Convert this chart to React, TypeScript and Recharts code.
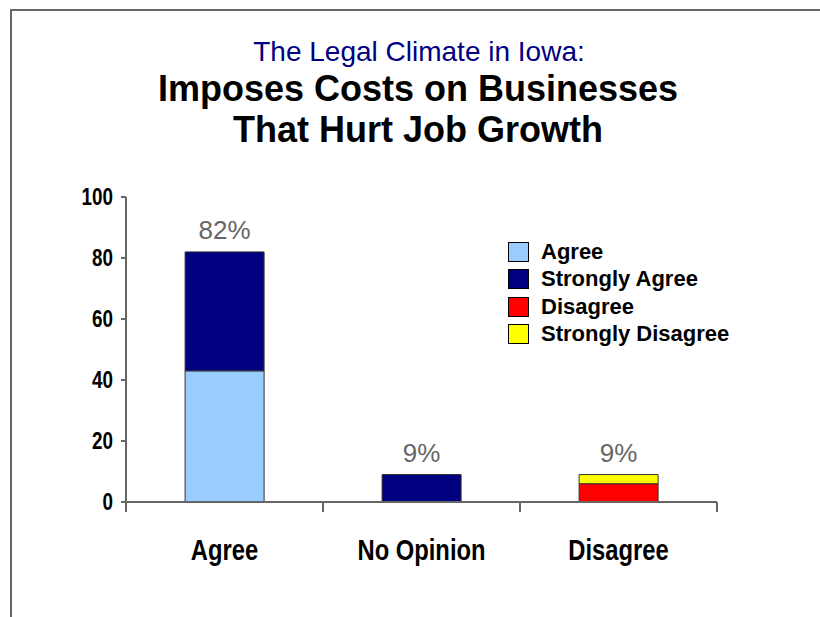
import React from 'react';
import { BarChart, Bar, XAxis, YAxis, Legend, LabelList } from 'recharts';

const categories = ['Agree', 'No Opinion', 'Disagree'];
const agreeValues = [43, 0, 0];
const stronglyAgreeValues = [39, 0, 0];
const disagreeValues = [0, 0, 6];
const stronglyDisagreeValues = [0, 0, 3];
const noOpinionValues = [0, 9, 0];
const totalLabels = ['82%', '9%', '9%'];
const yTicks = [0, 20, 40, 60, 80, 100];

const seriesKeys = ['agree', 'stronglyAgree', 'disagree', 'stronglyDisagree', 'noOpinion'];
const seriesNames = ['Agree', 'Strongly Agree', 'Disagree', 'Strongly Disagree', 'No Opinion'];
const seriesColors = ['#99CCFF', '#000080', '#FF0000', '#FFFF00', '#000080'];

const data = categories.map((c, i) => ({
  category: c,
  agree: agreeValues[i],
  stronglyAgree: stronglyAgreeValues[i],
  disagree: disagreeValues[i],
  stronglyDisagree: stronglyDisagreeValues[i],
  noOpinion: noOpinionValues[i],
}));

const topKey = data.map((d: any) => {
  let k = '';
  seriesKeys.forEach((s) => {
    if (d[s] > 0) k = s;
  });
  return k;
});

const AXIS = '#666666';
const SANS = '"Liberation Sans", Arial, sans-serif';

const makeLabel = (key: string) => (props: any) => {
  const { x, y, width, value } = props;
  const idx = categories.indexOf(value);
  if (idx < 0 || topKey[idx] !== key) return null;
  return (
    <text
      x={Number(x) + Number(width) / 2}
      y={Number(y) - 13}
      textAnchor="middle"
      fontFamily={SANS}
      fontSize={26}
      fill="#666666"
    >
      {totalLabels[idx]}
    </text>
  );
};

const NarrowText = ({ x, y, size, anchor, children }: any) => (
  <text
    transform={`translate(${x},${y}) scale(0.82,1)`}
    x={0}
    y={0}
    textAnchor={anchor}
    fontFamily={SANS}
    fontWeight="bold"
    fontSize={size}
    fill="#000"
  >
    {children}
  </text>
);

const XTick = (props: any) => {
  const { x, y, payload, index, width } = props;
  const bw = (width || 591) / categories.length;
  return (
    <g>
      <line x1={x - bw / 2} x2={x - bw / 2} y1={y} y2={y + 10} stroke={AXIS} strokeWidth={2} />
      {index === categories.length - 1 && (
        <line x1={x + bw / 2} x2={x + bw / 2} y1={y} y2={y + 10} stroke={AXIS} strokeWidth={2} />
      )}
      <NarrowText x={x} y={y + 58} size={29} anchor="middle">
        {payload.value}
      </NarrowText>
    </g>
  );
};

const YTick = (props: any) => {
  const { x, y, payload } = props;
  return (
    <NarrowText x={x} y={y + 8} size={23} anchor="end">
      {payload.value}
    </NarrowText>
  );
};

const LegendContent = (props: any) => {
  const payload = (props.payload || [])
    .filter((p: any) => p.value !== 'No Opinion')
    .sort((a: any, b: any) => seriesNames.indexOf(a.value) - seriesNames.indexOf(b.value));
  return (
    <div style={{ display: 'flex', flexDirection: 'column' }}>
      {payload.map((p: any) => (
        <div key={p.value} style={{ display: 'flex', alignItems: 'center', height: 27.5 }}>
          <div
            style={{
              width: 19,
              height: 18,
              background: p.color,
              border: '1px solid #000',
              marginRight: 12,
            }}
          />
          <span
            style={{
              fontFamily: SANS,
              fontWeight: 'bold',
              fontSize: 22,
              color: '#000',
              lineHeight: '20px',
            }}
          >
            {p.value}
          </span>
        </div>
      ))}
    </div>
  );
};

export default function App() {
  return (
    <div style={{ position: 'fixed', left: 0, top: 0, width: 820, height: 617, background: '#fff', overflow: 'hidden' }}>
      <div
        style={{
          position: 'absolute',
          left: 10,
          top: 9,
          width: 900,
          height: 700,
          borderLeft: '2px solid #666',
          borderTop: '2px solid #666',
        }}
      />
      <svg width={820} height={160} style={{ position: 'absolute', left: 0, top: 0 }}>
        <text x={419} y={61} textAnchor="middle" fontFamily={SANS} fontSize={28} fill="#000080">
          The Legal Climate in Iowa:
        </text>
        <text x={418} y={101} textAnchor="middle" fontFamily={SANS} fontWeight="bold" fontSize={36} fill="#000">
          Imposes Costs on Businesses
        </text>
        <text x={418} y={142} textAnchor="middle" fontFamily={SANS} fontWeight="bold" fontSize={36} fill="#000">
          That Hurt Job Growth
        </text>
      </svg>
      <div style={{ position: 'absolute', left: 0, top: 0 }}>
        <BarChart
          width={820}
          height={617}
          data={data}
          margin={{ top: 197, right: 103, bottom: 55, left: 66 }}
          barCategoryGap="30%"
        >
          <XAxis
            dataKey="category"
            height={60}
            stroke={AXIS}
            strokeWidth={2}
            tickLine={false}
            tickSize={0}
            tickMargin={0}
            tick={<XTick />}
            interval={0}
          />
          <YAxis
            width={60}
            domain={[0, 100]}
            ticks={yTicks}
            stroke={AXIS}
            strokeWidth={2}
            tickSize={5}
            tickMargin={8}
            tick={<YTick />}
            interval={0}
          />
          <Legend
            layout="horizontal"
            verticalAlign="middle"
            align="center"
            itemSorter={null as any}
            wrapperStyle={{ position: 'absolute', left: 508, top: 238, width: 'auto' }}
            content={<LegendContent />}
          />
          {seriesKeys.map((k, i) => (
            <Bar
              key={k}
              dataKey={k}
              name={seriesNames[i]}
              stackId="s"
              fill={seriesColors[i]}
              stroke="#333"
              strokeWidth={1}
              isAnimationActive={false}
              legendType={k === 'noOpinion' ? 'none' : 'square'}
            >
              <LabelList dataKey="category" content={makeLabel(k)} />
            </Bar>
          ))}
        </BarChart>
      </div>
    </div>
  );
}
